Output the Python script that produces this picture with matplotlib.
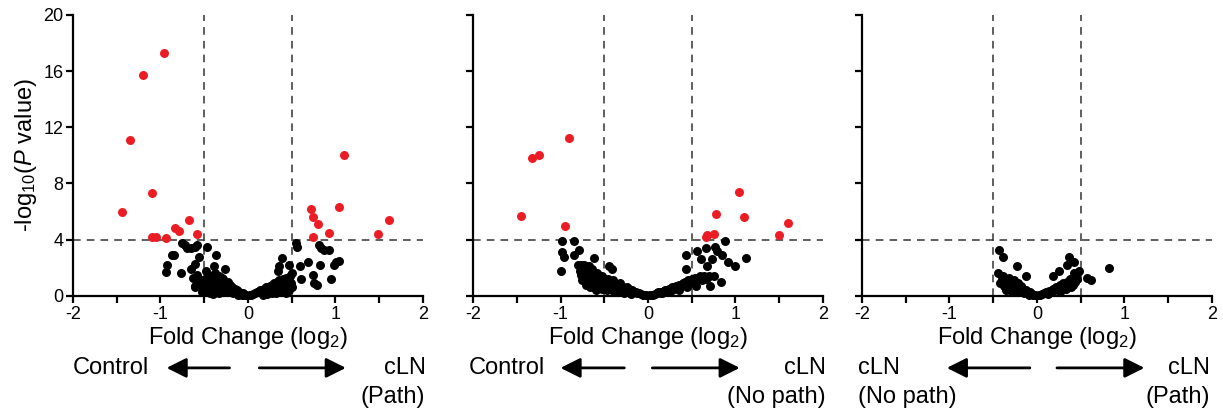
import numpy as np
import matplotlib
matplotlib.use("Agg")
import matplotlib.pyplot as plt

plt.rcParams['font.family'] = ['Liberation Sans', 'DejaVu Sans']
plt.rcParams['mathtext.fontset'] = 'custom'
plt.rcParams['mathtext.rm'] = 'Liberation Sans'
plt.rcParams['mathtext.it'] = 'Liberation Sans:italic'
plt.rcParams['axes.unicode_minus'] = False

RED = '#EC1C24'

# ---- panel 1: Control vs cLN (Path) ----
p1_red_x = [-0.96, -1.20, -1.35, -1.10, -1.44, -0.67, -0.83, -0.79, -0.58, -1.10, -1.05, -0.94,
            1.10, 0.72, 1.04, 0.74, 0.80, 0.93, 1.49, 1.61, 0.74]
p1_red_y = [17.3, 15.7, 11.1, 7.3, 6.0, 5.4, 4.8, 4.6, 4.4, 4.2, 4.2, 4.1,
            10.0, 6.2, 6.3, 5.6, 5.1, 4.5, 4.4, 5.4, 4.2]
p1_black_x = [-0.75, -0.72, -0.70, -0.65, -0.61, -0.58, -0.47, -0.87, -0.84, -0.93, -0.94, -0.77,
              -0.65, -0.60, -0.56, -0.63, -0.61, -0.37, -0.39, -0.26,
              -0.48, -0.46, -0.47, -0.45, -0.48, -0.44, -0.42, -0.40, -0.41, -0.39, -0.38, -0.36,
              -0.35, -0.37, -0.34, -0.33, -0.31, -0.30, -0.32, -0.29, -0.28, -0.27, -0.25, -0.24,
              -0.23, -0.22, -0.20, -0.19, -0.18, -0.16, -0.15, -0.13, -0.12, -0.10, -0.08, -0.06,
              -0.04, -0.02, -0.43, -0.40, -0.35, -0.55, -0.53, -0.56, -0.52, -0.58, -0.60, -0.50,
              -0.49, -0.44, -0.41, -0.33, -0.30, -0.26, -0.21, -0.17, -0.14, -0.11, -0.09, -0.07,
              0.55, 0.56, 0.39, 0.47, 0.60, 0.69, 0.74, 0.76, 0.79, 0.83, 0.81, 0.84, 0.87, 0.93,
              0.95, 0.99, 1.04, 1.01, 0.36, 0.34, 0.51, 0.61,
              0.02, 0.04, 0.06, 0.08, 0.10, 0.12, 0.14, 0.16, 0.18, 0.20, 0.21, 0.23, 0.25, 0.26,
              0.28, 0.29, 0.30, 0.31, 0.33, 0.34, 0.35, 0.36, 0.37, 0.38, 0.39, 0.40, 0.41, 0.42,
              0.43, 0.44, 0.45, 0.46, 0.47, 0.48, 0.49, 0.50, 0.27, 0.32, 0.38, 0.44, 0.22, 0.17]
p1_black_y = [3.8, 3.6, 3.4, 3.4, 3.5, 3.6, 3.5, 2.9, 2.9, 2.2, 1.7, 1.6,
              1.9, 2.3, 2.8, 1.3, 0.6, 2.9, 2.1, 1.9,
              1.8, 1.5, 1.2, 0.9, 0.6, 0.4, 1.3, 1.0, 0.7, 0.5, 1.6, 1.2,
              0.9, 0.3, 0.6, 1.4, 1.0, 0.7, 0.4, 1.2, 0.5, 0.9, 0.3, 0.7,
              1.0, 0.5, 0.8, 0.4, 0.6, 0.3, 0.5, 0.4, 0.2, 0.3, 0.15, 0.2,
              0.1, 0.05, 0.2, 0.15, 0.25, 0.9, 0.6, 1.2, 0.3, 1.5, 0.7, 1.1,
              0.3, 0.8, 1.1, 0.2, 1.3, 0.6, 0.3, 0.2, 0.25, 0.1, 0.2, 0.1,
              3.8, 3.5, 2.7, 2.2, 2.1, 2.4, 1.5, 0.9, 0.8, 2.2, 3.6, 3.4, 3.3, 3.3,
              1.2, 2.2, 2.5, 2.4, 2.1, 1.8, 1.6, 1.2,
              0.05, 0.1, 0.15, 0.2, 0.3, 0.25, 0.4, 0.3, 0.5, 0.4, 0.6, 0.5, 0.7, 0.3,
              0.8, 0.5, 0.9, 0.6, 1.0, 0.4, 0.8, 1.1, 0.6, 1.0, 0.3, 1.2, 0.8, 0.5,
              1.0, 1.3, 0.7, 1.1, 0.4, 1.4, 0.9, 0.6, 0.2, 0.2, 0.4, 0.2, 0.15, 0.1]

# ---- panel 2: Control vs cLN (No path) ----
p2_red_x = [-1.45, -1.33, -1.25, -0.90, -0.95, 1.04, 1.10, 0.78, 0.76, 0.67, 0.66, 1.60, 1.50]
p2_red_y = [5.7, 9.8, 10.0, 11.2, 5.0, 7.4, 5.6, 5.8, 4.4, 4.3, 4.2, 5.2, 4.3]
p2_black_x = [-0.98, -0.85, -0.98, -0.96, -0.85, -0.79, -0.99, -0.62, -0.77, -0.73, -0.67, -0.75,
              -0.76, -0.60, -0.44, -0.41,
              -0.80, -0.78, -0.76, -0.74, -0.72, -0.70, -0.69, -0.67, -0.65, -0.64, -0.62, -0.60,
              -0.58, -0.56, -0.54, -0.52, -0.50, -0.48, -0.46, -0.44, -0.42, -0.40, -0.38, -0.36,
              -0.34, -0.32, -0.30, -0.28, -0.26, -0.24, -0.22, -0.20, -0.18, -0.16, -0.14, -0.12,
              -0.10, -0.08, -0.06, -0.04, -0.02, -0.71, -0.66, -0.59, -0.53, -0.47, -0.39, -0.33,
              -0.27, -0.19,
              0.88, 0.66, 0.56, 0.43, 0.61, 0.73, 0.77, 0.79, 0.85, 0.92, 0.99, 1.12, 0.67, 0.43,
              0.84, 0.71, 0.64, 0.75,
              0.02, 0.04, 0.06, 0.08, 0.10, 0.12, 0.14, 0.16, 0.18, 0.20, 0.22, 0.24, 0.26, 0.28,
              0.30, 0.32, 0.34, 0.36, 0.38, 0.40, 0.42, 0.44, 0.46, 0.48, 0.50, 0.52, 0.54, 0.56,
              0.58, 0.60, 0.62, 0.64, 0.66, 0.68, 0.70, 0.35, 0.45, 0.55, 0.25, 0.15]
p2_black_y = [3.9, 3.9, 3.1, 2.8, 2.9, 3.3, 1.8, 2.7, 2.2, 2.2, 2.1, 1.1,
              1.6, 0.6, 2.1, 1.9,
              2.2, 1.8, 1.5, 2.0, 1.3, 1.7, 2.1, 1.1, 1.5, 1.9, 0.9, 1.3,
              1.6, 0.8, 1.2, 1.4, 0.7, 1.0, 1.2, 0.6, 0.9, 1.1, 0.5, 0.8,
              0.7, 0.9, 0.5, 0.6, 0.4, 0.6, 0.5, 0.3, 0.4, 0.3, 0.25, 0.2,
              0.2, 0.15, 0.1, 0.08, 0.04, 0.8, 0.6, 0.4, 0.5, 0.4, 0.3, 0.3,
              0.2, 0.15,
              3.9, 3.4, 3.2, 2.9, 2.6, 2.6, 3.5, 3.2, 2.9, 2.4, 2.1, 2.7, 2.1, 1.9,
              1.0, 0.7, 1.4, 1.4,
              0.05, 0.1, 0.1, 0.15, 0.2, 0.25, 0.3, 0.2, 0.35, 0.4, 0.3, 0.5, 0.45, 0.6,
              0.5, 0.7, 0.6, 0.8, 0.7, 0.9, 1.0, 0.8, 1.1, 0.9, 1.2, 1.0, 1.3, 1.1,
              1.2, 1.4, 1.1, 1.3, 1.2, 1.3, 1.4, 0.4, 0.6, 0.7, 0.3, 0.2]

# ---- panel 3: cLN (No path) vs cLN (Path) ----
p3_black_x = [-0.43, -0.39, -0.23, -0.44, -0.39, -0.40, -0.12, 0.37, 0.42, 0.34, 0.25, 0.48,
              0.43, 0.57, 0.62, 0.82, 0.41, 0.18,
              -0.42, -0.40, -0.38, -0.36, -0.34, -0.32, -0.30, -0.28, -0.26, -0.24, -0.22, -0.20,
              -0.18, -0.16, -0.14, -0.12, -0.10, -0.08, -0.06, -0.04, -0.02, -0.35, -0.29, -0.21,
              -0.15, -0.09, -0.33, -0.25,
              0.02, 0.04, 0.06, 0.08, 0.10, 0.12, 0.14, 0.16, 0.18, 0.20, 0.22, 0.24, 0.26, 0.28,
              0.30, 0.32, 0.34, 0.36, 0.38, 0.40, 0.42, 0.44, 0.46, 0.27, 0.33, 0.39, 0.13]
p3_black_y = [3.3, 2.8, 2.1, 1.6, 1.4, 1.1, 1.4, 2.8, 2.4, 2.2, 1.8, 1.8,
              1.6, 1.3, 1.1, 2.0, 0.8, 1.4,
              0.9, 1.2, 0.7, 1.0, 0.6, 1.3, 0.8, 0.5, 1.1, 0.6, 0.9, 0.4,
              0.7, 0.5, 0.3, 0.4, 0.2, 0.25, 0.15, 0.1, 0.05, 0.4, 0.3, 0.3,
              0.2, 0.1, 0.9, 0.8,
              0.05, 0.1, 0.15, 0.2, 0.25, 0.3, 0.35, 0.3, 0.5, 0.4, 0.6, 0.5, 0.8, 0.6,
              0.9, 0.7, 1.0, 0.8, 1.2, 0.9, 1.3, 1.0, 1.2, 0.3, 0.5, 0.6, 0.15]

panels = [
    dict(rx=p1_red_x, ry=p1_red_y, bx=p1_black_x, by=p1_black_y,
         left=['Control'], right=['cLN', '(Path)'], left_x=-2.0, right_x=2.03,
         larrow=(-0.21, -0.93), rarrow=(0.13, 1.12)),
    dict(rx=p2_red_x, ry=p2_red_y, bx=p2_black_x, by=p2_black_y,
         left=['Control'], right=['cLN', '(No path)'], left_x=-2.05, right_x=2.03,
         larrow=(-0.27, -1.0), rarrow=(0.05, 1.05)),
    dict(rx=[], ry=[], bx=p3_black_x, by=p3_black_y,
         left=['cLN', '(No path)'], right=['cLN', '(Path)'], left_x=-2.05, right_x=1.98,
         larrow=(-0.08, -1.03), rarrow=(0.23, 1.23)),
]

fig = plt.figure(figsize=(12.23, 4.11), dpi=100)
lefts = [0.0597, 0.3868, 0.7048]
FS = 17

for i, p in enumerate(panels):
    ax = fig.add_axes([lefts[i], 0.280, 0.286, 0.684])
    ax.set_xlim(-2, 2)
    ax.set_ylim(0, 20)

    # threshold lines
    ax.axhline(4, color='#333333', lw=1.1, ls=(0, (5, 4)), zorder=1)
    ax.axvline(-0.5, color='#333333', lw=1.1, ls=(0, (5, 4)), zorder=1)
    ax.axvline(0.5, color='#333333', lw=1.1, ls=(0, (5, 4)), zorder=1)

    ax.scatter(p['bx'], p['by'], s=42, color='black', linewidths=0, zorder=3, clip_on=False)
    if p['rx']:
        ax.scatter(p['rx'], p['ry'], s=42, color=RED, linewidths=0, zorder=3, clip_on=False)

    for side in ['top', 'right']:
        ax.spines[side].set_visible(False)
    for side in ['left', 'bottom']:
        ax.spines[side].set_linewidth(1.6)

    ax.set_xticks(np.arange(-2, 2.01, 0.5))
    ax.set_xticklabels(['-2', '', '-1', '', '0', '', '1', '', '2'])
    ax.set_yticks([0, 4, 8, 12, 16, 20])
    ax.tick_params(direction='out', length=5, width=1.6, labelsize=13, pad=2)
    if i == 0:
        ax.set_ylabel('-log$_{10}$($\\mathit{P}$ value)', fontsize=FS, labelpad=3)
    else:
        ax.set_yticklabels([])

    tr = ax.get_xaxis_transform()
    ax.text(0, -0.15, 'Fold Change (log$_2$)', transform=tr, ha='center', va='center', fontsize=FS)

    # direction labels and arrows
    ax.text(p['left_x'], -0.256, p['left'][0], transform=tr, ha='left', va='center', fontsize=FS)
    if len(p['left']) > 1:
        ax.text(p['left_x'], -0.36, p['left'][1], transform=tr, ha='left', va='center', fontsize=FS)
    ax.text(p['right_x'], -0.256, p['right'][0], transform=tr, ha='right', va='center', fontsize=FS)
    ax.text(p['right_x'], -0.36, p['right'][1], transform=tr, ha='right', va='center', fontsize=FS)

    aprops = dict(arrowstyle='-|>,head_length=0.6,head_width=0.3', lw=2, color='black',
                  mutation_scale=20, shrinkA=0, shrinkB=0)
    ax.annotate('', xy=(p['larrow'][1], -0.256), xytext=(p['larrow'][0], -0.256),
                xycoords=tr, textcoords=tr, arrowprops=aprops, annotation_clip=False)
    ax.annotate('', xy=(p['rarrow'][1], -0.256), xytext=(p['rarrow'][0], -0.256),
                xycoords=tr, textcoords=tr, arrowprops=aprops, annotation_clip=False)

fig.savefig('out.png', dpi=100)
